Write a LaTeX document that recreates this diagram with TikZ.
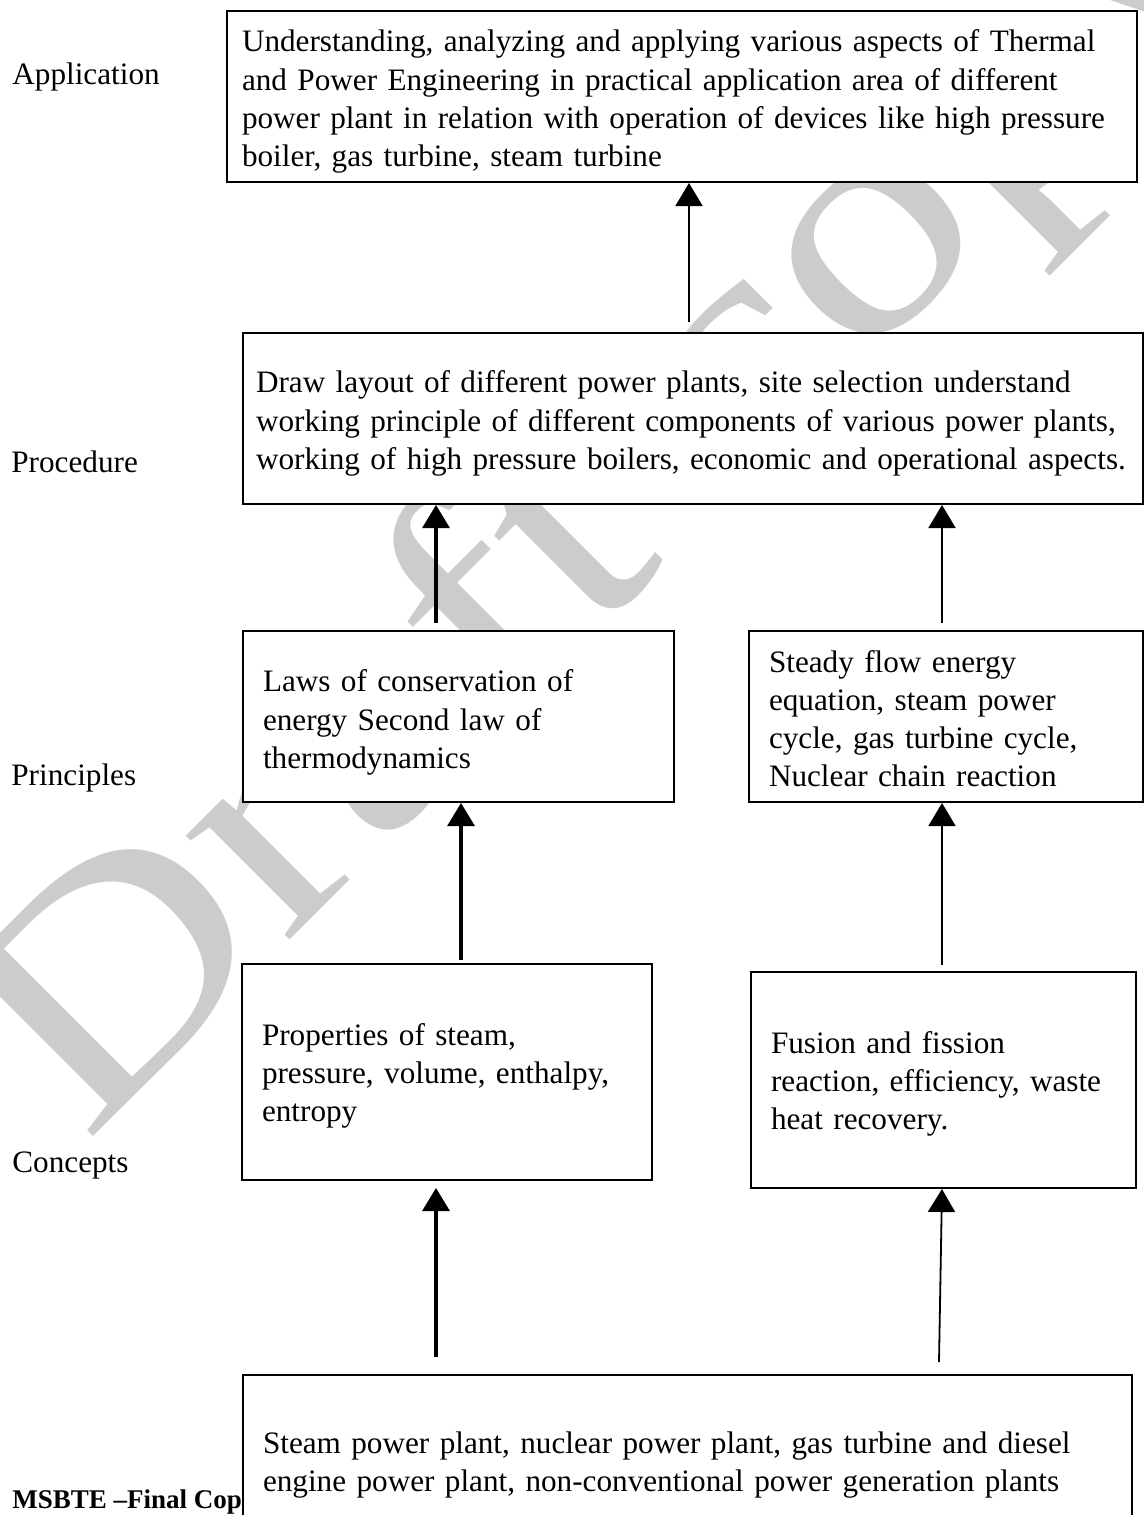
\documentclass[tikz,border=0pt]{standalone}
\usepackage{fontspec}
\setmainfont{Liberation Serif}
\usetikzlibrary{arrows.meta}

\begin{document}
\begin{tikzpicture}[x=0.5pt, y=-0.5pt, >={Triangle[length=11.5pt,width=13.5pt]},
	font=\fontsize{15.6}{19.1}\selectfont,
	box/.style={draw, fill=white, line width=1pt, align=left, inner xsep=10pt, inner ysep=0pt, text height=16pt},
	lbl/.style={anchor=base west, inner sep=0pt},
	link/.style={line width=0.9pt},
	boldlink/.style={line width=1.6pt}]
	%\draw [help lines] (0,0) grid (1144,1515);
	\useasboundingbox (0,0) rectangle (1144,1515);
	% watermark
	\node [anchor=base west, rotate=45, xscale=1.22, inner sep=0pt, text=black!20, font=\fontsize{160}{160}\selectfont] (draft) at (85,1145) {Draft copy};
	% level names
	\node [lbl] (lapp) at (12,84) {Application};
	\node [lbl] (lproc) at (11,472) {Procedure};
	\node [lbl] (lprin) at (11,785) {Principles};
	\node [lbl] (lconc) at (12,1172) {Concepts};
	\node [lbl, font=\fontsize{13.5}{15}\selectfont\bfseries] (foot) at (12,1508) {MSBTE --Final Copy};
	% boxes
	\node [box, inner xsep=7.5pt, text width=440pt, minimum height=85.5pt] (app) at (682,96.5) {Understanding, analyzing and applying various aspects of Thermal\\and Power Engineering in practical application area of different\\power plant in relation with operation of devices like high pressure\\boiler, gas turbine, steam turbine};
	\node [box, inner xsep=6.5pt, text width=437pt, minimum height=85.5pt] (proc) at (693,418.5) {Draw layout of different power plants, site selection understand\\working principle of different components of various power plants,\\working of high pressure boilers, economic and operational aspects.};
	\node [box, text height=17pt, text width=195.5pt, minimum height=85.5pt] (law) at (458.5,716.5) {Laws of conservation of\\energy Second law of\\thermodynamics};
	\node [box, text height=13pt, text width=177pt, minimum height=85.5pt] (sfee) at (946,716.5) {Steady flow energy\\equation, steam power\\cycle, gas turbine cycle,\\Nuclear chain reaction};
	\node [box, text height=14.6pt, text width=185pt, minimum height=108pt] (prop) at (447,1072) {Properties of steam,\\pressure, volume, enthalpy,\\entropy};
	\node [box, text height=14.6pt, text width=172.5pt, minimum height=108pt] (fus) at (943.5,1080) {Fusion and fission\\reaction, efficiency, waste\\heat recovery.};
	\node [box, text width=424.5pt, minimum height=84.5pt] (plant) at (687.5,1459.5) {Steam power plant, nuclear power plant, gas turbine and diesel\\engine power plant, non-conventional power generation plants};
	% arrows
	\coordinate (t1) at (689,322);
	\coordinate (t2) at (436,623);
	\coordinate (t3) at (942,623);
	\coordinate (t4) at (461,960);
	\coordinate (t5) at (942,965);
	\coordinate (t6) at (436,1357);
	\coordinate (t7) at (939,1362);
	\draw [->, link] (t1) -- (t1 |- app.south);
	\draw [->, boldlink] (t2) -- (t2 |- proc.south);
	\draw [->, link] (t3) -- (t3 |- proc.south);
	\draw [->, boldlink] (t4) -- (t4 |- law.south);
	\draw [->, link] (t5) -- (t5 |- sfee.south);
	\draw [->, boldlink, shorten >=3.5pt] (t6) -- (t6 |- prop.south);
	\draw [->, link] (t7) -- (t5 |- fus.south);
\end{tikzpicture}
\end{document}
